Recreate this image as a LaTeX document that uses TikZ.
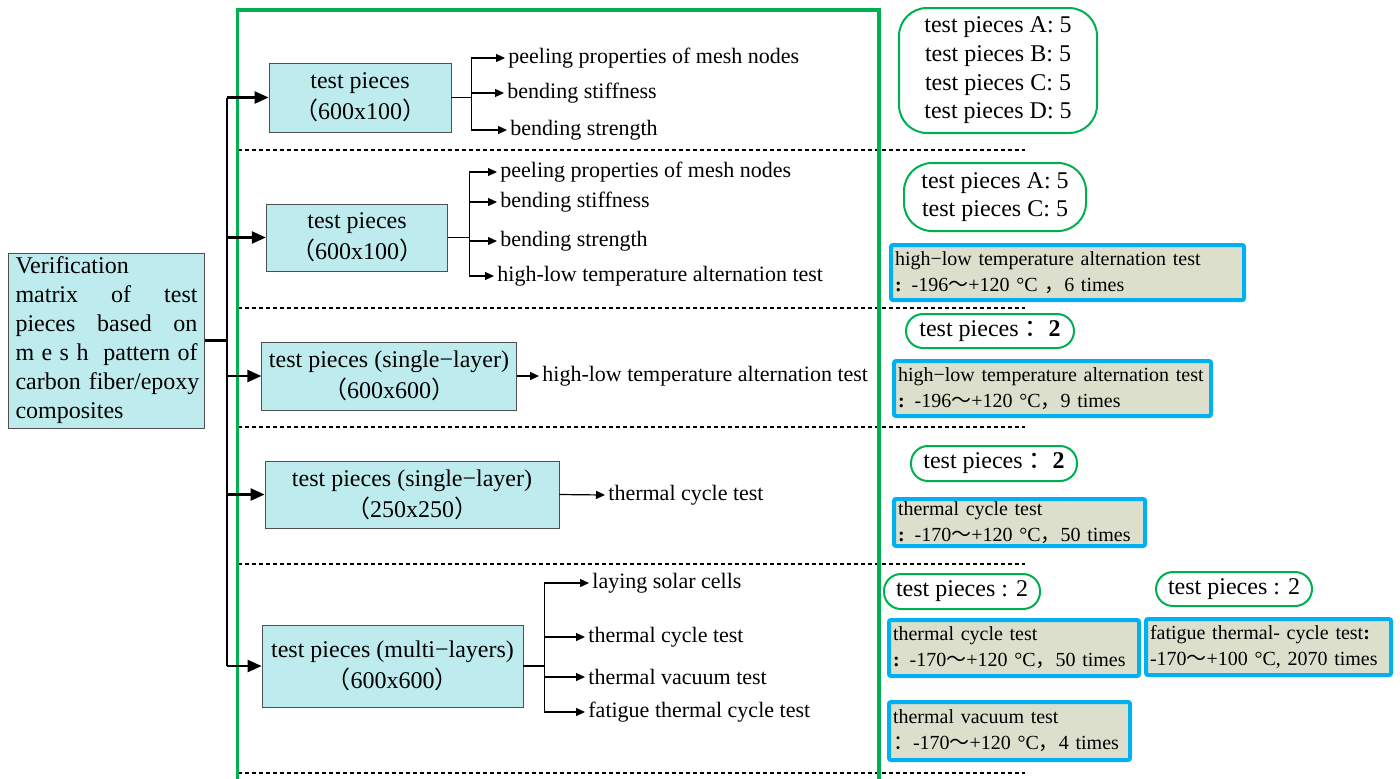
\documentclass[tikz,border=0pt]{standalone}
\usepackage{fontspec}
\setmainfont{Liberation Serif}
\newfontfamily\cjk{Noto Sans CJK SC}
\usepackage{tikz}
\usetikzlibrary{arrows.meta, positioning, calc}
\definecolor{piececyan}{RGB}{190,236,238}
\definecolor{boxgray}{RGB}{80,80,80}
\definecolor{framegreen}{RGB}{0,176,80}
\definecolor{condblue}{RGB}{0,176,240}
\definecolor{condfill}{RGB}{220,223,203}
\newcommand{\fillline}[1]{\makebox[91pt][l]{#1}}
\newcommand{\fwlp}{{\cjk （}}
\newcommand{\fwrp}{{\cjk ）}}
\newcommand{\fwtilde}{{\cjk ～}}
\newcommand{\fwcomma}{{\cjk ，}}
\newcommand{\fwcolon}{{\cjk ：}}

\begin{document}
\begin{tikzpicture}[x=0.5pt, y=-0.5pt,
  piece/.style={draw=boxgray, fill=piececyan, align=center, inner sep=0pt, font=\fontsize{12}{15.5}\selectfont},
  leaf/.style={anchor=west, inner xsep=1.5pt, inner ysep=1pt, font=\fontsize{11}{13}\selectfont},
  count/.style={draw=framegreen, line width=1pt, align=center, inner sep=0pt, font=\fontsize{12}{14.3}\selectfont},
  cond/.style={draw=condblue, line width=2pt, fill=condfill, rounded corners=1pt, align=left, inner xsep=2pt, inner ysep=0pt, font=\fontsize{10}{13}\selectfont},
  trunk/.style={line width=1.2pt},
  twig/.style={line width=0.6pt},
  bigtip/.style={-{Triangle[length=7pt,width=6pt]}},
  smalltip/.style={-{Triangle[length=4.5pt,width=4pt]}}]
  \useasboundingbox (0,0) rectangle (1400,778);

  \foreach \y in {150,308,427,564,773}
    {\draw[dash pattern=on 2pt off 1.5pt, line width=0.9pt] (237.5,\y) -- (1025,\y);}
  \draw[framegreen, line width=1.6pt] (237.5,800) |- (879,10) -- (879,800);

  \node[piece, align=left, text width=91pt, inner xsep=3.5pt, minimum height=87.5pt, font=\fontsize{12}{14.5}\selectfont] (verif) at (106.5,340.5)
    {Verification\\\fillline{matrix\hfill of\hfill test}\\\fillline{pieces\hfill based\hfill on}\\\fillline{m\hfill e\hfill s\hfill h\hfill\hfill pattern\hfill of}\\\fillline{carbon fiber/epoxy}\\composites};

  \node[piece, minimum width=91pt, minimum height=34.5pt] (p1) at (360,97.5) {test pieces\\\fwlp 600x100\fwrp};
  \node[piece, minimum width=90.75pt, minimum height=33.5pt] (p2) at (357,237.5) {test pieces\\\fwlp 600x100\fwrp};
  \node[piece, minimum width=127.25pt, minimum height=34pt] (p3) at (389,376) {test pieces (single−layer)\\\fwlp 600x600\fwrp};
  \node[piece, minimum width=147pt, minimum height=33.5pt] (p4) at (412,494.5) {test pieces (single−layer)\\\fwlp 250x250\fwrp};
  \node[piece, minimum width=130.5pt, minimum height=41pt] (p5) at (392.5,666) {test pieces (multi−layers)\\\fwlp 600x600\fwrp};

  \draw[trunk] (verif.east) -- ++(22,0) coordinate (fork);
  \draw[trunk] (fork |- p1.west) -- (fork |- p5.west);
  \foreach \p in {p1,p2,p3,p4,p5}
    {\draw[trunk, bigtip] (fork |- \p.west) -- (\p.west);}

  \node[leaf] (l1a) at (505,58) {peeling properties of mesh nodes};
  \node[leaf] (l1b) at (504,93) {bending stiffness};
  \node[leaf] (l1c) at (507,130) {bending strength};
  \draw[twig] (p1.east) -- ++(20,0) coordinate (s1);
  \draw[twig] (s1 |- l1a.west) -- (s1 |- l1c.west);
  \foreach \l in {l1a,l1b,l1c}
    {\draw[twig, smalltip] (s1 |- \l.west) -- (\l.west);}

  \node[leaf] (l2a) at (497,172) {peeling properties of mesh nodes};
  \node[leaf] (l2b) at (497,202) {bending stiffness};
  \node[leaf] (l2c) at (497,241) {bending strength};
  \node[leaf] (l2d) at (494,276) {high-low temperature alternation test};
  \draw[twig] (p2.east) -- ++(21,0) coordinate (s2);
  \draw[twig] (s2 |- l2a.west) -- (s2 |- l2d.west);
  \foreach \l in {l2a,l2b,l2c,l2d}
    {\draw[twig, smalltip] (s2 |- \l.west) -- (\l.west);}

  \node[leaf] (l3) at (539,376) {high-low temperature alternation test};
  \draw[twig, smalltip] (p3.east) -- (l3.west);

  \node[leaf] (l4) at (605,495) {thermal cycle test};
  \draw[twig, smalltip] (p4.east) -- (l4.west);

  \node[leaf] (l5a) at (589,583) {laying solar cells};
  \node[leaf] (l5b) at (585,637) {thermal cycle test};
  \node[leaf] (l5c) at (585,677) {thermal vacuum test};
  \node[leaf] (l5d) at (585,712) {fatigue thermal cycle test};
  \draw[twig] (p5.east) -- ++(21,0) coordinate (s5);
  \draw[twig] (s5 |- l5a.west) -- (s5 |- l5d.west);
  \foreach \l in {l5a,l5b,l5c,l5d}
    {\draw[twig, smalltip] (s5 |- \l.west) -- (\l.west);}

  \node[count, minimum width=99pt, minimum height=62.5pt, rounded corners=14pt] (n1) at (998,70.5)
    {test pieces A: 5\\test pieces B: 5\\test pieces C: 5\\test pieces D: 5};
  \node[count, minimum width=91pt, minimum height=34pt, rounded corners=14pt] (n2) at (995,197)
    {test pieces A: 5\\test pieces C: 5};
  \node[count, minimum width=84pt, minimum height=17pt, rounded corners=8.5pt] (n3) at (990,331) {test pieces~\fwcolon\textbf{2}};
  \node[count, minimum width=83pt, minimum height=17.5pt, rounded corners=8.5pt] (n4) at (994,463.5) {test pieces~\fwcolon\textbf{2}};
  \node[count, minimum width=78pt, minimum height=17.5pt, rounded corners=8.5pt] (n5) at (962,591.5) {test pieces : 2};
  \node[count, minimum width=78pt, minimum height=17pt, rounded corners=8.5pt] (n6) at (1234,589) {test pieces : 2};

  \node[cond, text width=172.5pt, minimum height=27.5pt] (c1) at (1067.5,272.5)
    {high−low temperature alternation test\\\textbf{:} -196\fwtilde+120 °C \fwcomma 6 times};
  \node[cond, text width=154.5pt, minimum height=27.5pt] (c2) at (1052.5,388.5)
    {high−low temperature alternation test\\\textbf{:} -196\fwtilde+120 °C\fwcomma 9 times};
  \node[cond, text width=121.5pt, minimum height=23.5pt] (c3) at (1019.5,522.5)
    {thermal cycle test\\\textbf{:} -170\fwtilde+120 °C\fwcomma 50 times};
  \node[cond, text width=121pt, minimum height=28pt] (c4) at (1014,648)
    {thermal cycle test\\\textbf{:} -170\fwtilde+120 °C\fwcomma 50 times};
  \node[cond, text width=118.5pt, minimum height=28pt] (c5) at (1268.5,647)
    {fatigue thermal- cycle test\textbf{:}\\-170\fwtilde+100 °C, 2070 times};
  \node[cond, text width=116.5pt, minimum height=29pt] (c6) at (1009.5,731)
    {thermal vacuum test\\\fwcolon -170\fwtilde+120 °C\fwcomma 4 times};
\end{tikzpicture}
\end{document}
